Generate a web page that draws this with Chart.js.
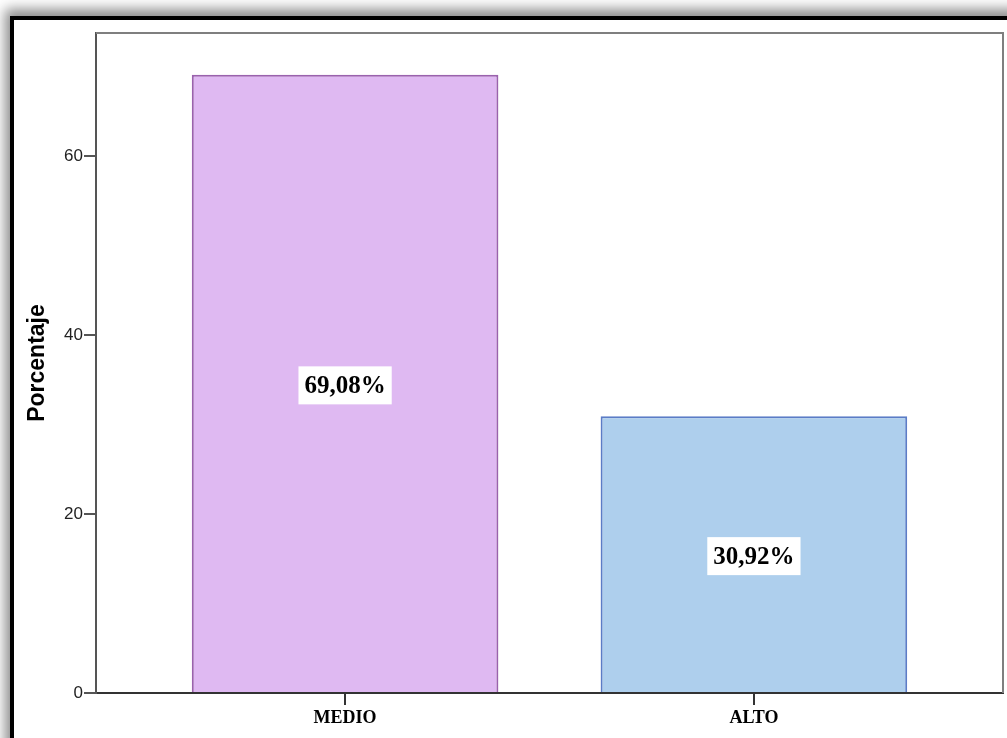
<!DOCTYPE html>
<html>
<head>
<meta charset="utf-8">
<script src="https://cdn.jsdelivr.net/npm/chart.js@4.4.1/dist/chart.umd.min.js"></script>
<style>
  html, body { margin: 0; padding: 0; width: 1007px; height: 738px; overflow: hidden; background: #ffffff; }
  #frame { position: absolute; left: 10px; top: 16px; width: 1200px; height: 900px;
           border-left: 4px solid #000; border-top: 4px solid #000; background: #fff;
           box-shadow: -2px -4px 12px 3px rgba(0,0,0,0.45); }
  #c { position: absolute; left: 0; top: 0; }
</style>
</head>
<body>
<div id="frame"></div>
<canvas id="c" width="1007" height="738"></canvas>
<script>
const categories = ['MEDIO', 'ALTO'];
const percentages = [69.08, 30.92];
const yTicks = [0, 20, 40, 60];
const fillColors = ['#dfb9f2', '#aecfed'];
const edgeColors = ['#9a62ad', '#5b7cc6'];

const plotFrame = {
  id: 'plotFrame',
  beforeDatasetsDraw(chart) {
    const a = chart.chartArea, ctx = chart.ctx;
    ctx.save();
    ctx.strokeStyle = '#7f7f7f';
    ctx.lineWidth = 2;
    ctx.beginPath();
    ctx.moveTo(a.left, a.top);
    ctx.lineTo(a.right, a.top);
    ctx.lineTo(a.right, a.bottom);
    ctx.stroke();
    ctx.restore();
  }
};

const valueBoxes = {
  id: 'valueBoxes',
  afterDatasetsDraw(chart) {
    const ctx = chart.ctx;
    const meta = chart.getDatasetMeta(0);
    ctx.save();
    ctx.font = 'bold 25px "Liberation Serif", "Times New Roman", serif';
    ctx.textAlign = 'center';
    ctx.textBaseline = 'middle';
    meta.data.forEach((bar, i) => {
      const txt = percentages[i].toFixed(2).replace('.', ',') + '%';
      const cx = bar.x;
      const cy = (bar.y + bar.base) / 2 + 2;
      const w = ctx.measureText(txt).width + 12;
      const h = 38;
      ctx.fillStyle = '#ffffff';
      ctx.fillRect(cx - w / 2, cy - h / 2, w, h);
      ctx.fillStyle = '#000000';
      ctx.fillText(txt, cx, cy + 1);
    });
    ctx.restore();
  }
};

new Chart(document.getElementById('c'), {
  type: 'bar',
  data: {
    datasets: [{
      data: categories.map((c, i) => ({ x: i, y: percentages[i] })),
      backgroundColor: fillColors,
      borderColor: edgeColors,
      borderWidth: 2,
      categoryPercentage: 1,
      barPercentage: 0.75
    }]
  },
  options: {
    responsive: false,
    animation: false,
    devicePixelRatio: 1,
    layout: { padding: { left: 0, top: 33, right: 4, bottom: 0 } },
    plugins: { legend: { display: false }, tooltip: { enabled: false } },
    scales: {
      x: {
        type: 'linear',
        offset: false,
        min: -0.6093,
        max: 1.6093,
        afterBuildTicks(scale) { scale.ticks = categories.map((c, i) => ({ value: i })); },
        afterFit(scale) { scale.height = 45; },
        ticks: {
          callback: (v) => categories[v],
          font: { family: '"Liberation Serif", "Times New Roman", serif', size: 18, weight: 'bold' },
          color: '#000',
          padding: 3,
          maxRotation: 0
        },
        grid: { display: true, offset: false, drawOnChartArea: false, drawTicks: true, tickLength: 12, color: '#333', lineWidth: 2 },
        border: { display: true, color: '#333', width: 2 }
      },
      y: {
        min: 0,
        max: 73.74,
        afterBuildTicks(scale) { scale.ticks = yTicks.map(v => ({ value: v })); },
        afterFit(scale) { scale.width = 96; },
        ticks: {
          stepSize: 20,
          includeBounds: false,
          font: { family: '"Liberation Sans", Arial, sans-serif', size: 17 },
          color: '#222',
          padding: 1
        },
        grid: { display: true, drawOnChartArea: false, drawTicks: true, tickLength: 12, color: '#555', lineWidth: 2 },
        border: { display: true, color: '#555', width: 2 },
        title: {
          display: true,
          text: 'Porcentaje',
          font: { family: '"Liberation Sans", Arial, sans-serif', size: 23, weight: 'bold' },
          color: '#000',
          padding: { top: 24, bottom: 0 }
        }
      }
    }
  },
  plugins: [plotFrame, valueBoxes]
});
</script>
</body>
</html>
